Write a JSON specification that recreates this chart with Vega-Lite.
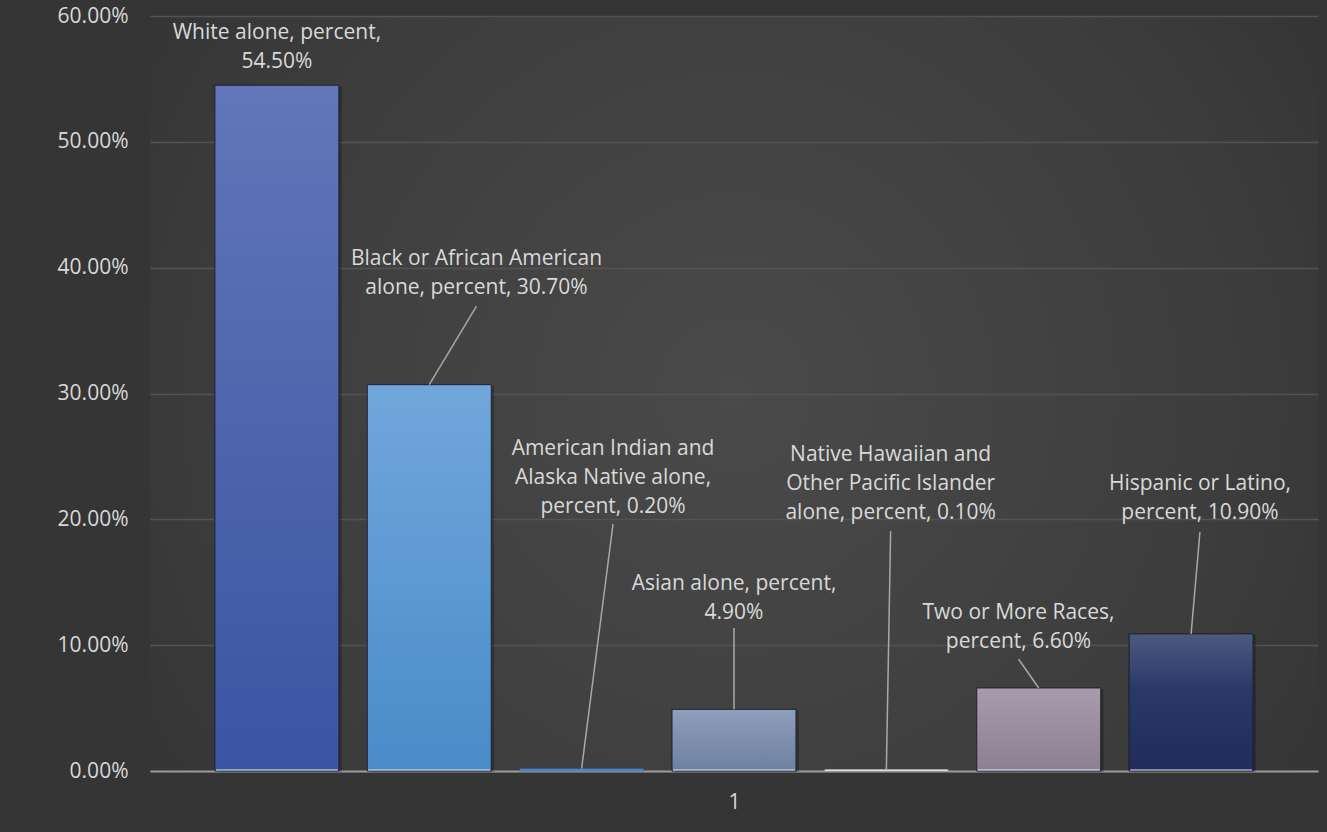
{
  "$schema": "https://vega.github.io/schema/vega-lite/v6.json",
  "width": 1168,
  "height": 755,
  "autosize": {"type": "none"},
  "padding": {"left": 150, "top": 16, "right": 9, "bottom": 61},
  "background": "#353535",
  "config": {
    "view": {
      "stroke": null,
      "fill": {
        "gradient": "radial",
        "x1": 0.5, "y1": 0.5, "r1": 0,
        "x2": 0.5, "y2": 0.5, "r2": 0.75,
        "stops": [
          {"offset": 0, "color": "#4a4a4a"},
          {"offset": 0.6, "color": "#3c3c3c"},
          {"offset": 1, "color": "#2d2d2d"}
        ]
      }
    },
    "font": "Open Sans"
  },
  "data": {
    "values": [
      {"race": "White alone", "pos": 1, "pct": 0.545, "label": "White alone, percent,\n54.50%", "labelAt": 1.0, "labelPct": 0.5861, "leaderTop": null},
      {"race": "Black or African American alone", "pos": 2, "pct": 0.307, "label": "Black or African American\nalone, percent, 30.70%", "labelAt": 2.31, "labelPct": 0.4065, "leaderTop": 0.3695},
      {"race": "American Indian and Alaska Native alone", "pos": 3, "pct": 0.002, "label": "American Indian and\nAlaska Native alone,\npercent, 0.20%", "labelAt": 3.206, "labelPct": 0.2555, "leaderTop": 0.1963},
      {"race": "Asian alone", "pos": 4, "pct": 0.049, "label": "Asian alone, percent,\n4.90%", "labelAt": 4.0, "labelPct": 0.149, "leaderTop": 0.1136},
      {"race": "Native Hawaiian and Other Pacific Islander alone", "pos": 5, "pct": 0.001, "label": "Native Hawaiian and\nOther Pacific Islander\nalone, percent, 0.10%", "labelAt": 5.028, "labelPct": 0.2515, "leaderTop": 0.1907},
      {"race": "Two or More Races", "pos": 6, "pct": 0.066, "label": "Two or More Races,\npercent, 6.60%", "labelAt": 5.867, "labelPct": 0.1252, "leaderTop": 0.089},
      {"race": "Hispanic or Latino", "pos": 7, "pct": 0.109, "label": "Hispanic or Latino,\npercent, 10.90%", "labelAt": 7.058, "labelPct": 0.2277, "leaderTop": 0.1899}
    ]
  },
  "encoding": {
    "x": {"field": "pos", "type": "quantitative", "scale": {"domain": [0.2, 7.8], "nice": false, "zero": false},
      "axis": {"values": [4], "labelExpr": "'1'", "title": null, "grid": false, "ticks": false, "tickSize": 0,
        "domainColor": "#9a9a9a", "domainWidth": 2, "labelColor": "#d9d9d9", "labelFontSize": 21,
        "labelPadding": 31, "labelBaseline": "middle", "labelFont": "Open Sans"}},
    "y": {"field": "pct", "type": "quantitative", "scale": {"domain": [0, 0.6], "nice": false, "zero": true},
      "axis": {"values": [0, 0.1, 0.2, 0.3, 0.4, 0.5, 0.6], "format": ".2%", "title": null, "domain": false,
        "ticks": false, "tickSize": 0, "gridColor": "#535353", "gridWidth": 1.5, "labelColor": "#d9d9d9",
        "labelFontSize": 21, "labelPadding": 22, "labelFont": "Open Sans"}}
  },
  "layer": [
    {
      "transform": [{"filter": "datum.pct > 0.01"}],
      "mark": {"type": "bar", "width": 124, "xOffset": 3, "yOffset": 1, "color": "#000000", "opacity": 0.22}
    },
    {
      "transform": [{"filter": "datum.pos == 1"}],
      "mark": {"type": "bar", "width": 124, "stroke": "#1d2130", "strokeWidth": 1,
        "color": {"gradient": "linear", "x1": 0, "y1": 0, "x2": 0, "y2": 1,
          "stops": [{"offset": 0, "color": "#6276b8"}, {"offset": 1, "color": "#3a55a3"}]}}
    },
    {
      "transform": [{"filter": "datum.pos == 2"}],
      "mark": {"type": "bar", "width": 124, "stroke": "#1d2130", "strokeWidth": 1,
        "color": {"gradient": "linear", "x1": 0, "y1": 0, "x2": 0, "y2": 1,
          "stops": [{"offset": 0, "color": "#71a7db"}, {"offset": 1, "color": "#4a8bc9"}]}}
    },
    {
      "transform": [{"filter": "datum.pos == 3"}],
      "mark": {"type": "bar", "width": 124, "stroke": "#2a4f80", "strokeWidth": 0.5,
        "color": {"gradient": "linear", "x1": 0, "y1": 0, "x2": 0, "y2": 1,
          "stops": [{"offset": 0, "color": "#3f7fcc"}, {"offset": 1, "color": "#5b98d8"}]}}
    },
    {
      "transform": [{"filter": "datum.pos == 4"}],
      "mark": {"type": "bar", "width": 124, "stroke": "#1d2130", "strokeWidth": 1,
        "color": {"gradient": "linear", "x1": 0, "y1": 0, "x2": 0, "y2": 1,
          "stops": [{"offset": 0, "color": "#8e9ebb"}, {"offset": 1, "color": "#6e80a0"}]}}
    },
    {
      "transform": [{"filter": "datum.pos == 5"}],
      "mark": {"type": "bar", "width": 124, "strokeWidth": 0,
        "color": {"gradient": "linear", "x1": 0, "y1": 0, "x2": 0, "y2": 1,
          "stops": [{"offset": 0, "color": "#d5dde6"}, {"offset": 1, "color": "#c3ccd6"}]}}
    },
    {
      "transform": [{"filter": "datum.pos == 6"}],
      "mark": {"type": "bar", "width": 124, "stroke": "#1d2130", "strokeWidth": 1,
        "color": {"gradient": "linear", "x1": 0, "y1": 0, "x2": 0, "y2": 1,
          "stops": [{"offset": 0, "color": "#a99bac"}, {"offset": 1, "color": "#8d7e92"}]}}
    },
    {
      "transform": [{"filter": "datum.pos == 7"}],
      "mark": {"type": "bar", "width": 124, "stroke": "#1a1d28", "strokeWidth": 1,
        "color": {"gradient": "linear", "x1": 0, "y1": 0, "x2": 0, "y2": 1,
          "stops": [{"offset": 0, "color": "#4d5a7e"}, {"offset": 0.4, "color": "#2a3969"}, {"offset": 1, "color": "#1f2c5c"}]}}
    },
    {
      "transform": [{"filter": "datum.pos != 3"}],
      "mark": {"type": "tick", "orient": "horizontal", "size": 122, "thickness": 1.5, "color": "#dde5ee", "yOffset": -1},
      "encoding": {
        "y": {"datum": 0, "type": "quantitative", "scale": {"domain": [0, 0.6], "nice": false, "zero": true}, "axis": {"title": null}}
      }
    },
    {
      "transform": [{"filter": "datum.leaderTop != null"}],
      "mark": {"type": "rule", "color": "#a8a8a8", "strokeWidth": 1.5},
      "encoding": {
        "x": {"field": "labelAt", "type": "quantitative", "scale": {"domain": [0.2, 7.8], "nice": false, "zero": false}, "axis": {"title": null}},
        "y": {"field": "leaderTop", "type": "quantitative", "scale": {"domain": [0, 0.6], "nice": false, "zero": true}, "axis": {"title": null}},
        "x2": {"field": "pos"},
        "y2": {"field": "pct"}
      }
    },
    {
      "mark": {"type": "text", "lineBreak": "\n", "lineHeight": 29, "fontSize": 21, "font": "Open Sans",
        "color": "#d9d9d9", "align": "center", "baseline": "middle"},
      "encoding": {
        "x": {"field": "labelAt", "type": "quantitative", "scale": {"domain": [0.2, 7.8], "nice": false, "zero": false}, "axis": {"title": null}},
        "y": {"field": "labelPct", "type": "quantitative", "scale": {"domain": [0, 0.6], "nice": false, "zero": true}, "axis": {"title": null}},
        "text": {"field": "label"}
      }
    }
  ]
}
